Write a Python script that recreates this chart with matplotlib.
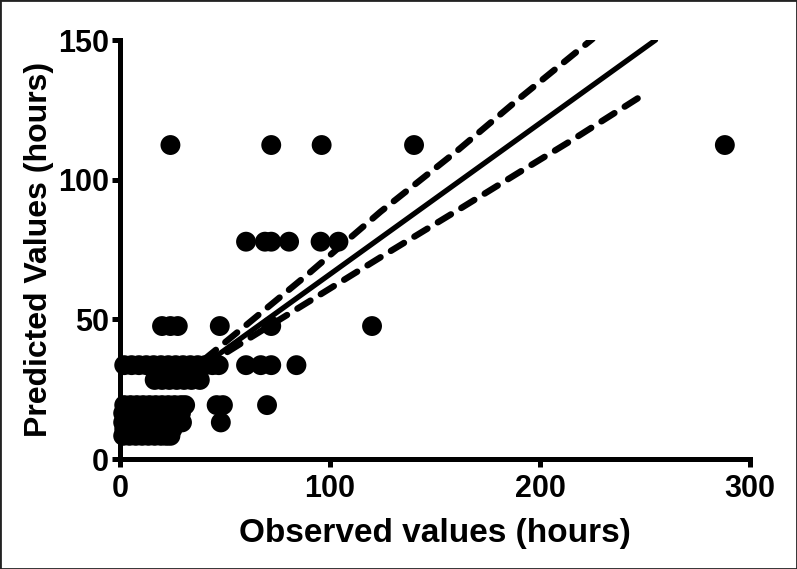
import numpy as np
import matplotlib.pyplot as plt
from matplotlib.patches import Rectangle

plt.rcParams['font.family'] = ['Liberation Sans', 'DejaVu Sans']
plt.rcParams['font.weight'] = 'bold'

# predicted value levels (hours) and the observed values found at each level
level_8 = 112.4
obs_8 = [24, 72, 96, 140, 288]
level_7 = 77.8
obs_7 = [60, 69, 72, 80.5, 95.5, 104]
level_6 = 47.6
obs_6 = [20, 24, 27.5, 47.5, 72, 120]
level_5 = 33.6
obs_5 = [2, 5.5, 9, 12.5, 16, 19.5, 23, 26.5, 30, 33.5, 37, 40.5, 44, 47,
         60, 67, 72, 84]
level_4 = 28.3
obs_4 = [16.5, 20, 23.5, 27, 30.5, 34, 38]
level_3 = 19.3
obs_3 = [2, 5, 8, 11, 14, 17, 20, 23, 26, 29, 31, 46, 49, 70]
level_3b = 16.4
obs_3b = [1.5, 4.5, 7.5, 10.5, 13.5, 16.5, 19.5, 22.5, 25.5, 29]
level_2 = 13.1
obs_2 = [1.5, 4.5, 7.5, 10.5, 13.5, 16.5, 19.5, 22.5, 25.5, 29.5, 48]
level_1b = 10.7
obs_1b = [2, 5, 8, 11, 14, 17, 20, 23, 25]
level_1 = 8.3
obs_1 = [1.5, 4.5, 7.5, 10.5, 13.5, 16.5, 19.5, 22, 24]

levels = [level_1, level_1b, level_2, level_3b, level_3, level_4, level_5,
          level_6, level_7, level_8]
obs = [obs_1, obs_1b, obs_2, obs_3b, obs_3, obs_4, obs_5, obs_6, obs_7, obs_8]

# regression line and its 95% band
fit_x = [40, 255]
fit_y = [33.7, 150.0]
upper_x = [40, 60, 90, 124, 160, 190, 225]
upper_y = [35.6, 47.9, 66.5, 88.5, 110.0, 129.0, 150.4]
lower_x = [40, 60, 90, 127, 160, 190, 214, 249]
lower_y = [33.1, 42.5, 56.4, 73.6, 88.7, 102.6, 113.6, 130.3]

xs = np.concatenate([np.array(o, dtype=float) for o in obs])
ys = np.concatenate([np.full(len(o), l) for o, l in zip(obs, levels)])

fig = plt.figure(figsize=(7.97, 5.69), dpi=100)
ax = fig.add_axes([0.1506, 0.1933, 0.7905, 0.7364])

ax.scatter(xs, ys, s=205, c='black', edgecolors='none', clip_on=False, zorder=3)
ax.plot(fit_x, fit_y, color='black', lw=3.8, solid_capstyle='round', zorder=4)
for bx, by in [(upper_x, upper_y), (lower_x, lower_y)]:
    ax.plot(bx, by, color='black', lw=4.6, dashes=(2.4, 1.9),
            dash_capstyle='round', zorder=4)

ax.set_xlim(0, 300)
ax.set_ylim(0, 150)
ax.set_xticks([0, 100, 200, 300])
ax.set_yticks([0, 50, 100, 150])

for s in ['top', 'right']:
    ax.spines[s].set_visible(False)
for s in ['left', 'bottom']:
    ax.spines[s].set_linewidth(3.6)
ax.tick_params(width=3.6, length=6, direction='out', labelsize=22)
ax.tick_params(axis='x', pad=5)
ax.tick_params(axis='y', pad=2)

ax.set_xlabel('Observed values (hours)', fontsize=24, fontweight='bold', labelpad=10)
ax.set_ylabel('Predicted Values (hours)', fontsize=23, fontweight='bold', labelpad=3)

fig.patches.append(Rectangle((0, 0), 1, 1, transform=fig.transFigure, fill=False,
                             edgecolor='#222222', lw=2))

fig.savefig('out.png', dpi=100)
